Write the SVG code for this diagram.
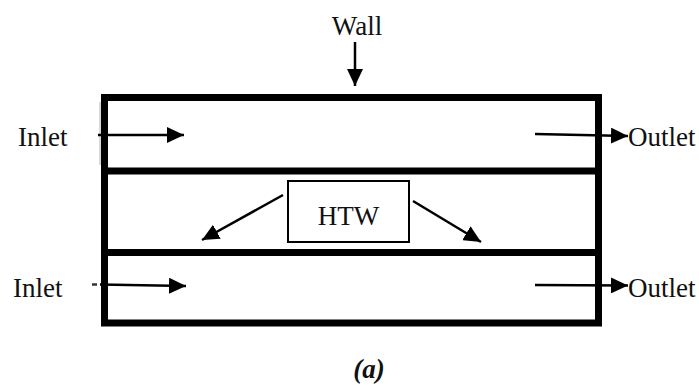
<svg xmlns="http://www.w3.org/2000/svg" width="699" height="387" viewBox="0 0 699 387">
<style>
  .lbl{font-family:"Liberation Serif","Times New Roman",serif;font-size:27px;fill:#111}
  .wall{fill:none;stroke:#000;stroke-width:7}
  .arr{stroke:#000;stroke-width:2.5;fill:none;marker-end:url(#ah)}
</style>
<defs>
  <marker id="ah" markerUnits="userSpaceOnUse" markerWidth="18" markerHeight="16" refX="17" refY="8" orient="auto">
    <path d="M0,0 L17,8 L0,16 z" fill="#000"/>
  </marker>
</defs>
<rect width="699" height="387" fill="#fff"/>
<g id="wall-label">
  <text class="lbl" x="357" y="35" text-anchor="middle">Wall</text>
</g>
<g id="channels">
  <rect class="wall" x="104.5" y="97.5" width="494" height="225.5"/>
  <line class="wall" x1="104.5" y1="171" x2="598.5" y2="171"/>
  <line class="wall" x1="104.5" y1="252.5" x2="598.5" y2="252.5"/>
  <line x1="100" y1="102" x2="100" y2="165" stroke="#ccc" stroke-width="1.5"/>
</g>
<g id="top-channel">
  <text class="lbl" x="18" y="146">Inlet</text>
  <text class="lbl" x="628" y="146">Outlet</text>
</g>
<g id="htw-section">
  <rect x="288" y="181" width="121" height="61" fill="#fff" stroke="#000" stroke-width="2"/>
  <text class="lbl" x="348.5" y="225" text-anchor="middle">HTW</text>
</g>
<g id="bottom-channel">
  <text class="lbl" x="13" y="297">Inlet</text>
  <text class="lbl" x="628" y="297">Outlet</text>
</g>
<g id="caption">
  <text class="lbl" x="369" y="378" text-anchor="middle" font-weight="bold" font-style="italic" font-size="29">(a)</text>
</g>
<g id="connectors">
  <line class="arr" x1="355" y1="42" x2="355" y2="86"/>
  <line class="arr" x1="98" y1="135" x2="184" y2="135"/>
  <line class="arr" x1="535" y1="134" x2="628" y2="136"/>
  <line x1="92" y1="284.5" x2="97" y2="284.5" stroke="#333" stroke-width="2.5"/>
  <line class="arr" x1="100" y1="284.5" x2="186" y2="286"/>
  <line class="arr" x1="535" y1="285" x2="628" y2="285.5"/>
  <line class="arr" x1="283" y1="195" x2="202" y2="240"/>
  <line class="arr" x1="413" y1="201" x2="481" y2="242"/>
</g>
</svg>
